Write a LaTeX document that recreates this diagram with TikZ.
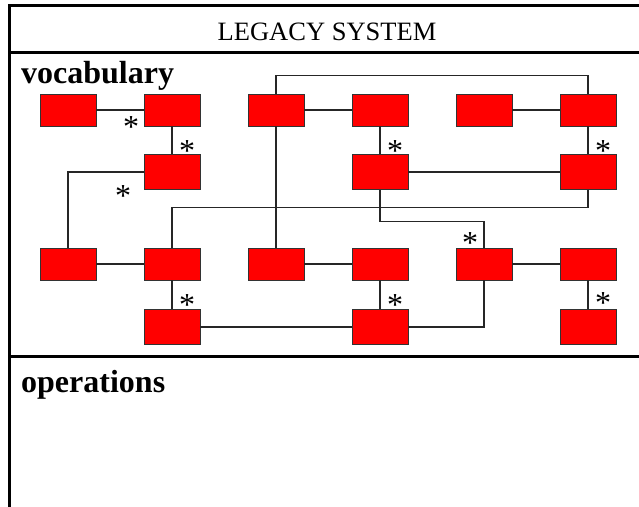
\documentclass[tikz,border=0pt]{standalone}
\usepackage{fontspec}
\setmainfont{Liberation Serif}
\usetikzlibrary{positioning}
\begin{document}
\begin{tikzpicture}[x=1pt, y=-1pt, node distance=104pt,
		box/.style = {draw=black!80, fill=red, minimum width=56pt, minimum height=32pt, inner sep=0pt},
		tall/.style = {box, minimum height=35pt},
		link/.style = {draw=black!85, line width=1.1pt},
		frame/.style = {line width=3pt},
		head/.style = {anchor=base, inner sep=0pt, font=\fontsize{26.5}{30}\selectfont},
		part/.style = {anchor=base west, inner sep=0pt, font=\fontsize{32}{34}\selectfont\bfseries},
		mult/.style = {inner sep=0pt, yshift=-5pt, font=\fontsize{32}{32}\selectfont}]
	\path[use as bounding box, fill=white] (0,0) rectangle (639,506);
	\clip (0,0) rectangle (639,506);
	\draw[frame] (660,5) -- (9,5) -- (9,520);
	\draw[frame] (9,52) -- (660,52);
	\draw[frame] (9,356) -- (660,356);
	\node[head] (legacy) at (327,40) {LEGACY SYSTEM};
	\node[part] (vocab) at (21,83) {vocabulary};
	\node[part] (ops) at (21,392) {operations};
	\node[box] (a1) at (68,110) {};
	\node[box] (a2) [right of=a1] {};
	\node[box] (a3) [right of=a2] {};
	\node[box] (a4) [right of=a3] {};
	\node[box] (a5) [right of=a4] {};
	\node[box] (a6) [right of=a5] {};
	\node[tall] (b2) [below of=a2, node distance=62pt] {};
	\node[tall] (b4) [below of=a4, node distance=62pt] {};
	\node[tall] (b6) [below of=a6, node distance=62pt] {};
	\node[box] (c1) at (68,264) {};
	\node[box] (c2) [right of=c1] {};
	\node[box] (c3) [right of=c2] {};
	\node[box] (c4) [right of=c3] {};
	\node[box] (c5) [right of=c4] {};
	\node[box] (c6) [right of=c5] {};
	\node[tall] (d2) [below of=c2, node distance=63pt] {};
	\node[tall] (d4) [below of=c4, node distance=63pt] {};
	\node[tall] (d6) [below of=c6, node distance=63pt] {};
	\draw[link] (a1) -- (a2);
	\draw[link] (a2) -- (b2);
	\draw[link] (b2) -| (c1);
	\draw[link] (a3) -- (a4);
	\draw[link] (a3.north) -- ++(0,-18) -| (a6.north);
	\draw[link] (a3) -- (c3);
	\draw[link] (a4) -- (b4);
	\draw[link] (a5) -- (a6);
	\draw[link] (a6) -- (b6);
	\draw[link] (b4) -- (b6);
	\draw[link] (b4.south) -- ++(0,32) -| (c5.north);
	\draw[link] (b6.south) -- ++(0,18) -| (c2.north);
	\draw[link] (c1) -- (c2);
	\draw[link] (c3) -- (c4);
	\draw[link] (c5) -- (c6);
	\draw[link] (c2) -- (d2);
	\draw[link] (c4) -- (d4);
	\draw[link] (c6) -- (d6);
	\draw[link] (d2) -- (d4);
	\draw[link] (d4) -| (c5);
	\node[mult] (m1) at (131,122.5) {*};
	\node[mult] (m2) at (187,146) {*};
	\node[mult] (m3) at (123,191.5) {*};
	\node[mult] (m4) at (395,146) {*};
	\node[mult] (m5) at (603,146) {*};
	\node[mult] (m6) at (470,238) {*};
	\node[mult] (m7) at (187,300) {*};
	\node[mult] (m8) at (395,300) {*};
	\node[mult] (m9) at (603,298) {*};
\end{tikzpicture}
\end{document}
